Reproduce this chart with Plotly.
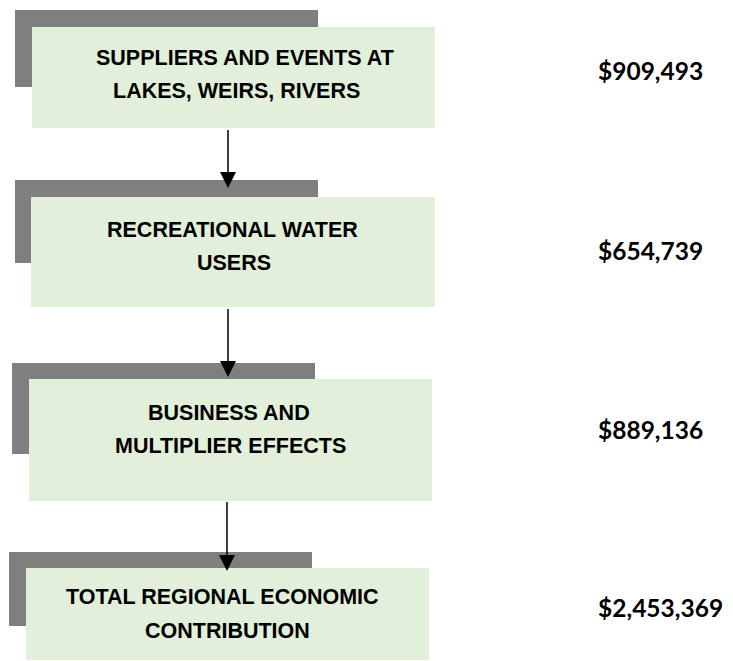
import plotly.graph_objects as go

# ---- data ----
stages = [
    ["SUPPLIERS AND EVENTS AT", "LAKES, WEIRS, RIVERS"],
    ["RECREATIONAL WATER", "USERS"],
    ["BUSINESS AND", "MULTIPLIER EFFECTS"],
    ["TOTAL REGIONAL ECONOMIC", "CONTRIBUTION"],
]
values = ["$909,493", "$654,739", "$889,136", "$2,453,369"]

# ---- layout geometry (pixels in the final page, y downwards) ----
gray_boxes = [(15, 10, 318, 87), (15, 180, 318, 263), (12, 363, 315, 454), (9, 552, 312, 626)]
green_boxes = [(32, 27, 435, 128), (31, 197, 435, 307), (29, 379, 432, 501), (26, 568, 429, 660)]
line_y = [(57.5, 91), (230, 262.5), (413, 446), (597, 630.5)]
line_x = [(245, 236), (232.5, 234), (229, 230.5), (222, 227.5)]
value_y = [70, 250, 429, 607]
arrows = [(228, 130, 188), (228, 309, 377), (227, 502, 571)]

GRAY = "#7f7f7f"
GREEN = "#e2efda"
PAGE_OFFSET = 8  # default body margin of the html page

fig = go.Figure()
shapes = []
for (g, gr) in zip(gray_boxes, green_boxes):
    shapes.append(dict(type="rect", xref="x", yref="y", x0=g[0], y0=g[1], x1=g[2], y1=g[3],
                       fillcolor=GRAY, line=dict(width=0), layer="above"))
    shapes.append(dict(type="rect", xref="x", yref="y", x0=gr[0], y0=gr[1], x1=gr[2], y1=gr[3],
                       fillcolor=GREEN, line=dict(width=0), layer="above"))

head_len, head_half = 16, 8
for (ax, y0, y1) in arrows:
    shapes.append(dict(type="line", xref="x", yref="y", x0=ax, y0=y0, x1=ax, y1=y1 - head_len + 1,
                       line=dict(color="black", width=1.5), layer="above"))
    path = f"M {ax - head_half} {y1 - head_len} L {ax + head_half} {y1 - head_len} L {ax} {y1} Z"
    shapes.append(dict(type="path", xref="x", yref="y", path=path, fillcolor="black",
                       line=dict(width=0), layer="above"))

annotations = []
for lines, ys, xs in zip(stages, line_y, line_x):
    for txt, yy, xx in zip(lines, ys, xs):
        annotations.append(dict(x=xx, y=yy, xref="x", yref="y", text=f"<b>{txt}</b>",
                                showarrow=False, xanchor="center", yanchor="middle",
                                font=dict(family="Liberation Sans, Arial", size=21.5, color="#000")))
for v, yy in zip(values, value_y):
    annotations.append(dict(x=596, y=yy, xref="x", yref="y", text=f"<b>{v}</b>",
                            showarrow=False, xanchor="left", yanchor="middle",
                            font=dict(family="Lato, Carlito, Calibri", size=24.5, color="#000")))

W, H = 733, 661
fig.update_layout(
    width=W - PAGE_OFFSET, height=H - PAGE_OFFSET, margin=dict(l=0, r=0, t=0, b=0, pad=0),
    paper_bgcolor="white", plot_bgcolor="white",
    xaxis=dict(range=[PAGE_OFFSET, W], visible=False, fixedrange=True),
    yaxis=dict(range=[H, PAGE_OFFSET], visible=False, fixedrange=True),
    shapes=shapes, annotations=annotations, showlegend=False,
)
fig.write_html("out.html")
